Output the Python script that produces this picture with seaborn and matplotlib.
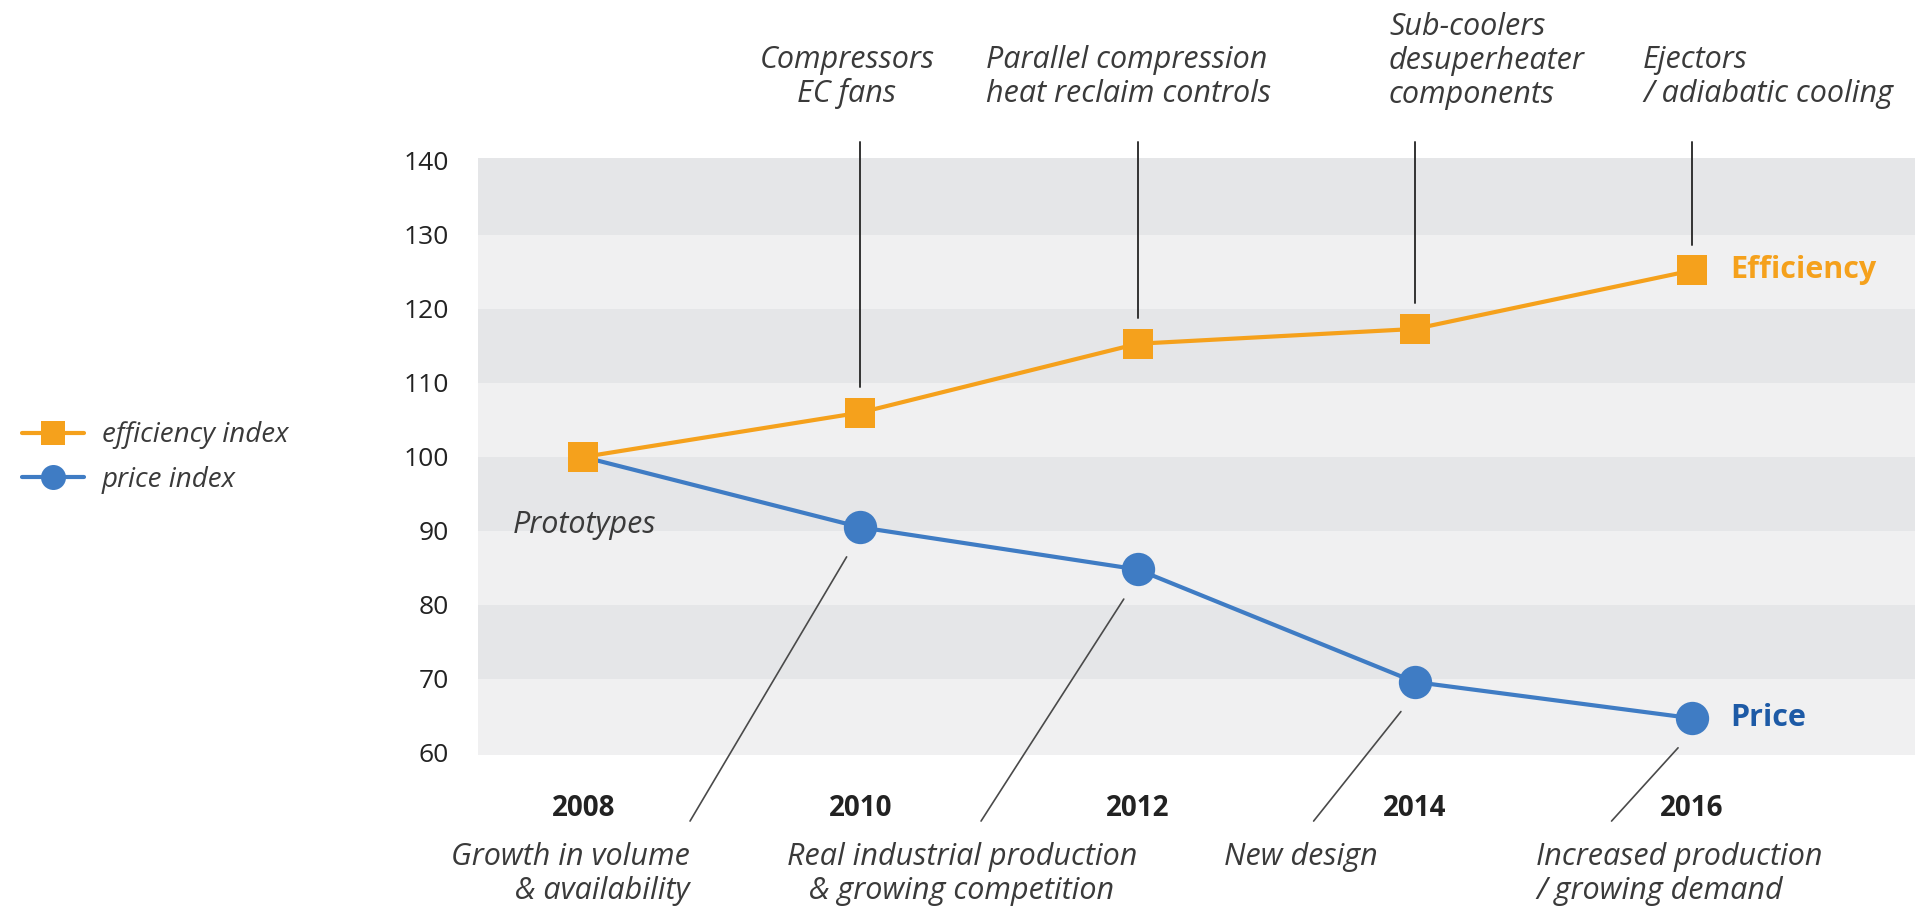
import matplotlib.pyplot as plt
from matplotlib.lines import Line2D
import seaborn as sns
import pandas as pd

years = [2008, 2010, 2012, 2014, 2016]
efficiency = [100, 106, 115.3, 117.3, 125.2]
price = [100, 90.5, 84.8, 69.6, 64.7]
series_names = ['efficiency index', 'price index']
y_ticks = [60, 70, 80, 90, 100, 110, 120, 130, 140]

top_notes = ['Compressors\nEC fans',
             'Parallel compression\nheat reclaim controls',
             'Sub-coolers\ndesuperheater\ncomponents',
             'Ejectors\n/ adiabatic cooling']
bottom_notes = ['Growth in volume\n& availability',
                'Real industrial production\n& growing competition',
                'New design',
                'Increased production\n/ growing demand']

ORANGE = '#F5A11C'
BLUE = '#3F7CC4'
DARK_BLUE = '#1D5AA6'
TEXT = '#3a3a3a'
BAND_DARK = '#E5E6E8'
BAND_LIGHT = '#F0F0F1'

sns.set_theme(style='white')
plt.rcParams['font.family'] = ['Open Sans', 'DejaVu Sans']

df = pd.DataFrame({
    'year': years * 2,
    'value': efficiency + price,
    'series': [series_names[0]] * len(years) + [series_names[1]] * len(years),
})

fig = plt.figure(figsize=(19.33, 9.07), dpi=100)
ax = fig.add_axes([0.2473, 0.1676, 0.7434, 0.6582])

ax.set_xlim(2007.24, 2017.61)
ax.set_ylim(59.73, 140.4)

# alternating horizontal bands
edges = [ax.get_ylim()[0]] + y_ticks[1:-1] + [ax.get_ylim()[1]]
for i in range(len(edges) - 1):
    ax.axhspan(edges[i], edges[i + 1], color=BAND_LIGHT if i % 2 == 0 else BAND_DARK,
               lw=0, zorder=0)

# price first so the efficiency square sits on top at 2008
sns.lineplot(data=df, x='year', y='value', hue='series', style='series',
             hue_order=series_names[::-1], style_order=series_names[::-1],
             palette=[BLUE, ORANGE], markers={series_names[0]: 's', series_names[1]: 'o'},
             dashes=False, linewidth=3, markersize=22, markeredgewidth=0,
             legend=False, ax=ax, zorder=3)
for ln in ax.lines:
    if ln.get_marker() == 'o':
        ln.set_markersize(24)
        # shared start point: only the square is shown there
        ln.set_markevery(list(range(1, len(years))))

ax.set_xticks(years)
ax.set_xticklabels([str(y) for y in years], fontsize=20, fontweight='bold', color='#222222')
ax.set_yticks(y_ticks)
ax.set_yticklabels([str(t) for t in y_ticks], fontsize=19, color='#222222')
ax.tick_params(axis='x', length=0, pad=28)
ax.tick_params(axis='y', length=0, pad=21)
ax.set_xlabel('')
ax.set_ylabel('')
for s in ax.spines.values():
    s.set_visible(False)

# connector lines to the notes
for x, v in zip(years[1:], efficiency[1:]):
    ax.plot([x, x], [v + 3.5, 142.6], color='#333333', lw=1.4, clip_on=False, zorder=2)
bottom_ends = [2008.77, 2010.87, 2013.27, 2015.42]
for x, v, xe in zip(years[1:], price[1:], bottom_ends):
    ax.plot([x - 0.1, xe], [v - 4.0, 50.8], color='#4a4a4a', lw=1.2, clip_on=False, zorder=2)

# notes
note_kw = dict(fontsize=22, style='italic', color=TEXT, linespacing=1.16)
fig.text(847 / 1933, 1 - 77 / 907, top_notes[0], ha='center', va='center',
         multialignment='center', **note_kw)
fig.text(986 / 1933, 1 - 77 / 907, top_notes[1], ha='left', va='center', **note_kw)
fig.text(1389 / 1933, 1 - 61 / 907, top_notes[2], ha='left', va='center', **note_kw)
fig.text(1643 / 1933, 1 - 77 / 907, top_notes[3], ha='left', va='center', **note_kw)

fig.text(690 / 1933, 1 - 874 / 907, bottom_notes[0], ha='right', va='center',
         multialignment='right', **note_kw)
fig.text(962 / 1933, 1 - 874 / 907, bottom_notes[1], ha='center', va='center',
         multialignment='center', **note_kw)
fig.text(1224 / 1933, 1 - 857 / 907, bottom_notes[2], ha='left', va='center', **note_kw)
fig.text(1536 / 1933, 1 - 874 / 907, bottom_notes[3], ha='left', va='center', **note_kw)

ax.text(2007.49, 90.8, 'Prototypes', ha='left', va='center', **note_kw)

ax.text(years[-1] + 0.28, efficiency[-1], 'Efficiency', ha='left', va='center',
        fontsize=22, fontweight='bold', color=ORANGE)
ax.text(years[-1] + 0.28, price[-1], 'Price', ha='left', va='center',
        fontsize=22, fontweight='bold', color=DARK_BLUE)

handles = [Line2D([], [], color=ORANGE, lw=3, marker='s', markersize=17, markeredgewidth=0),
           Line2D([], [], color=BLUE, lw=3, marker='o', markersize=18, markeredgewidth=0)]
leg = fig.legend(handles, series_names, loc='center left', bbox_to_anchor=(0.004, 0.4956),
                 frameon=False, borderpad=0, handlelength=2.23, handletextpad=0.65,
                 labelspacing=0.59, prop={'size': 20, 'style': 'italic'})
for t in leg.get_texts():
    t.set_color(TEXT)

fig.savefig('out.png', dpi=100)
